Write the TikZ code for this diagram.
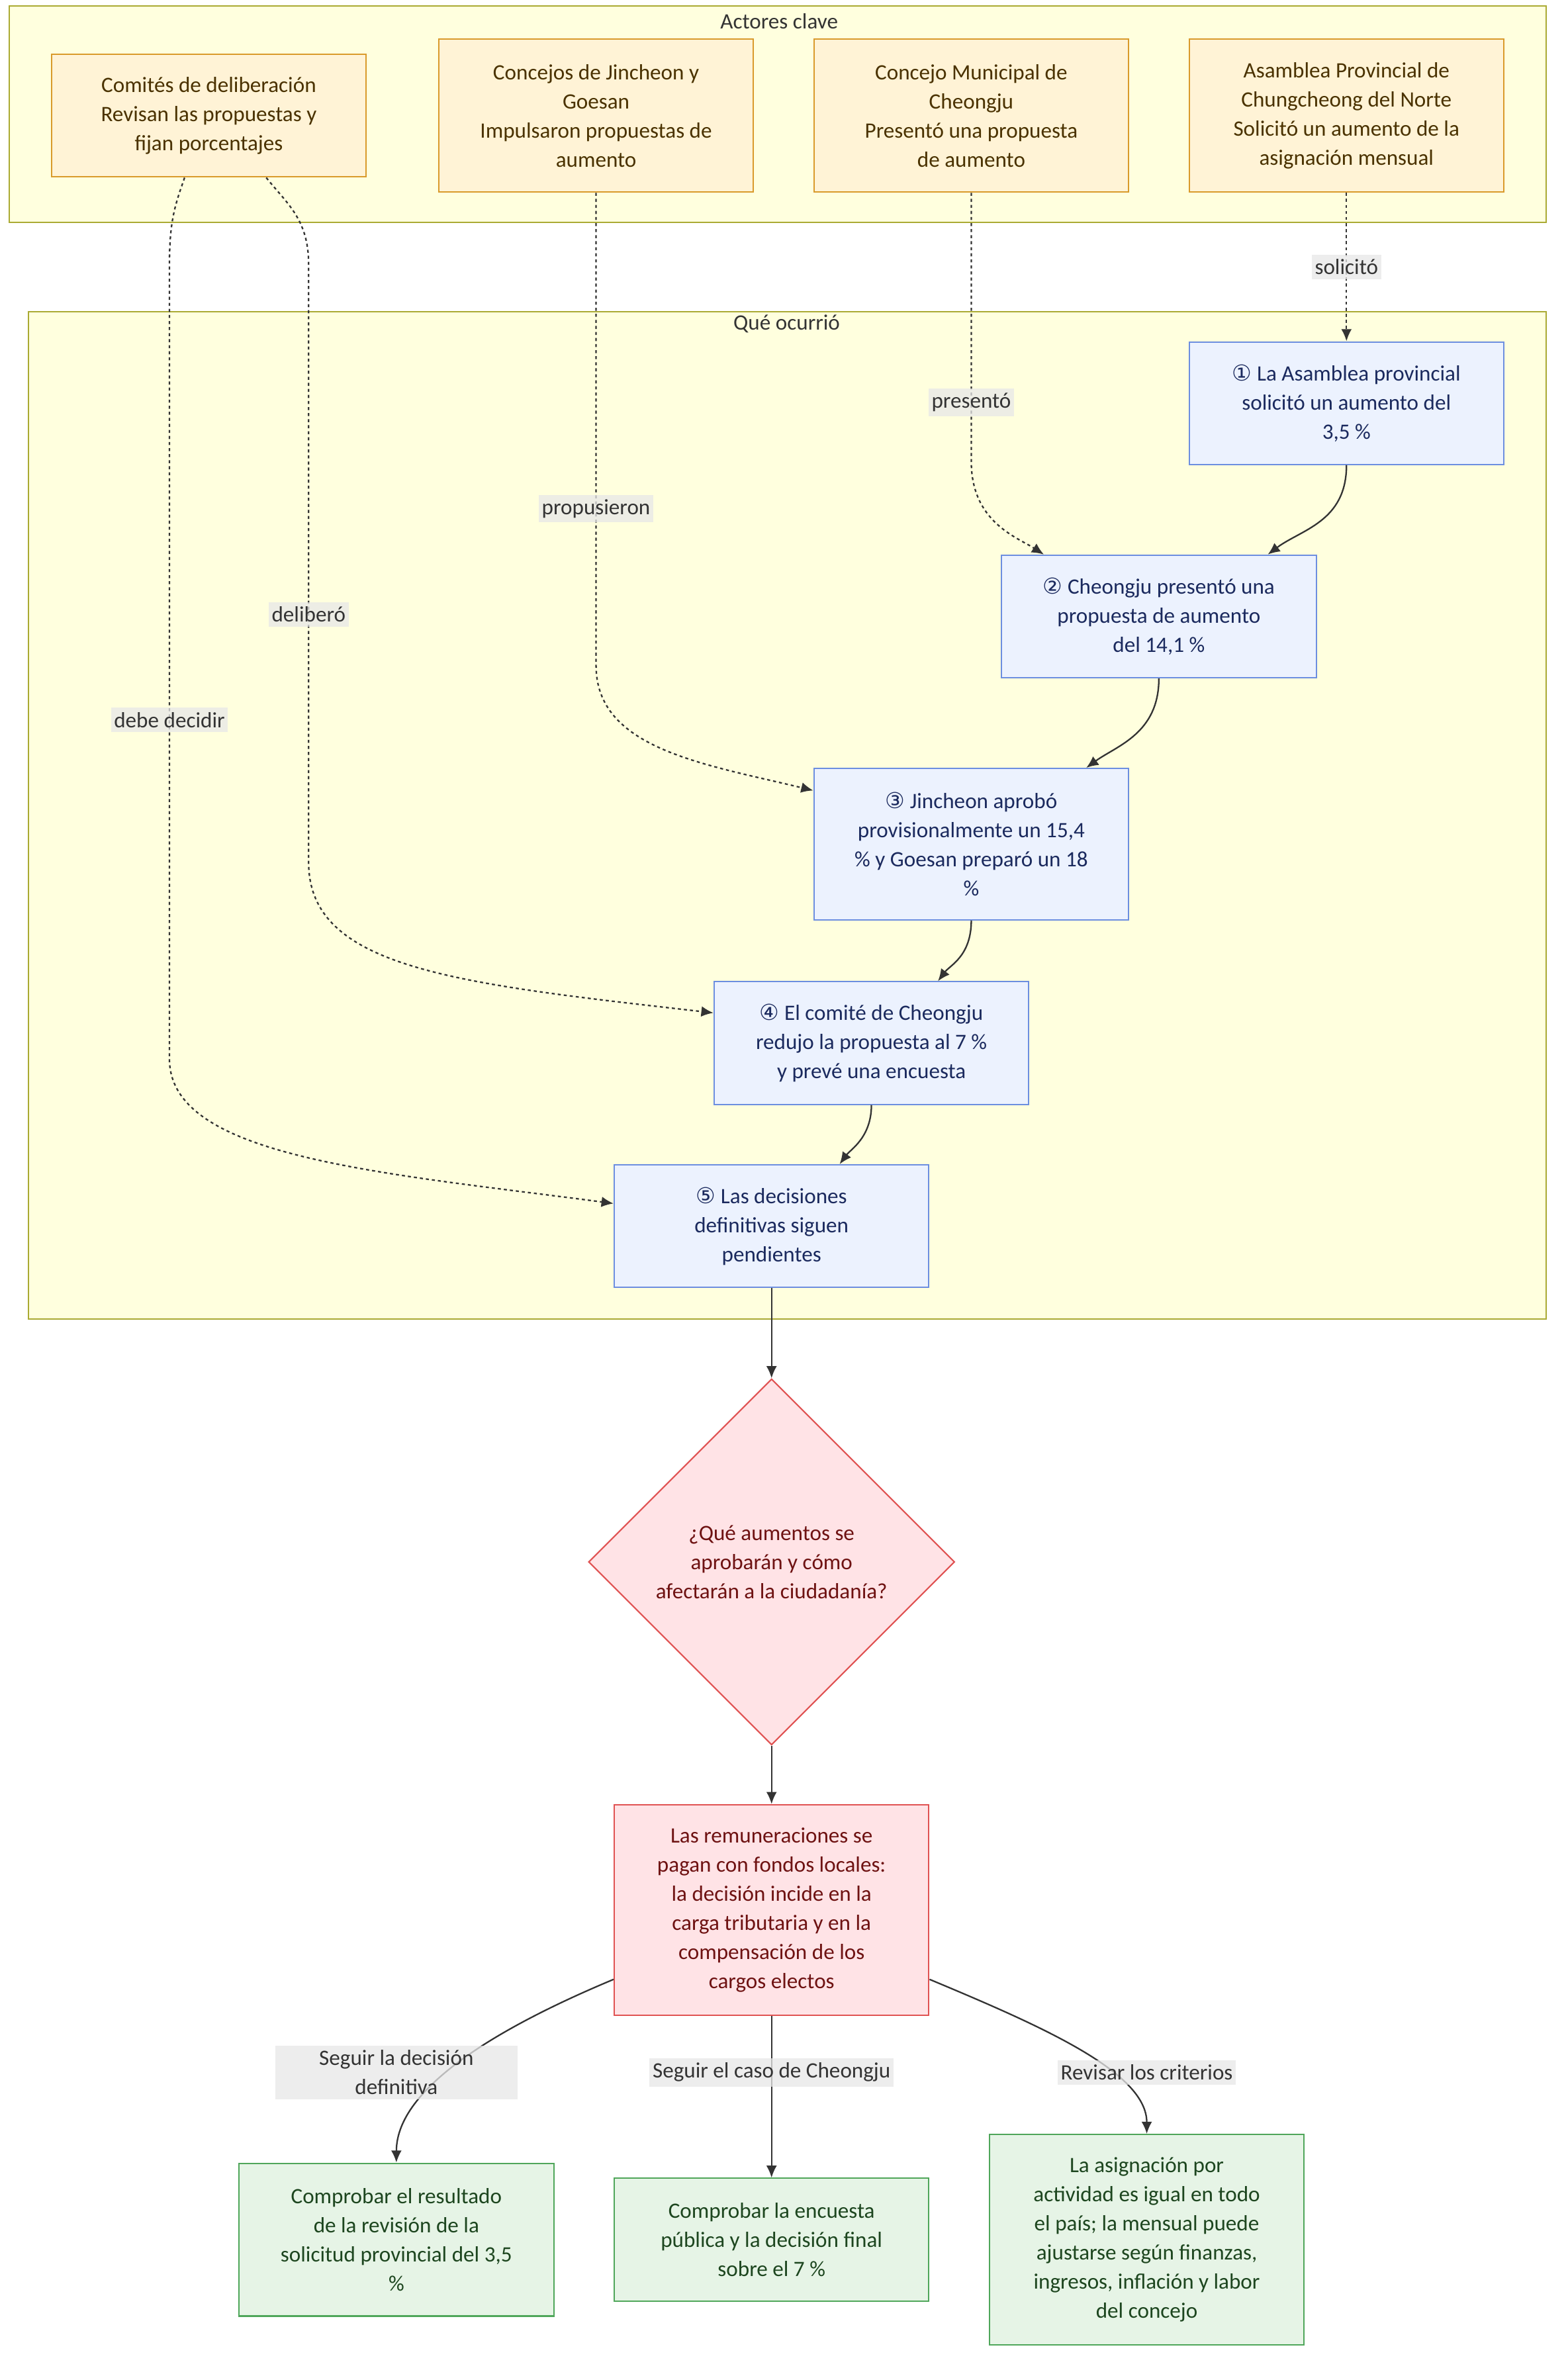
\documentclass[tikz,border=0pt]{standalone}
\usepackage{fontspec}
\setmainfont{Carlito}
\newfontfamily\circfont{DejaVu Sans}
\usetikzlibrary{shapes.geometric,arrows.meta}

\definecolor{clfill}{HTML}{FFFFDE}
\definecolor{cldraw}{HTML}{AAAA33}
\definecolor{actfill}{HTML}{FFF3D6}
\definecolor{actdraw}{HTML}{D99A2B}
\definecolor{acttext}{HTML}{4A3200}
\definecolor{stepfill}{HTML}{ECF2FE}
\definecolor{stepdraw}{HTML}{6C8EE0}
\definecolor{steptext}{HTML}{1B2A5E}
\definecolor{redfill}{HTML}{FFE3E6}
\definecolor{reddraw}{HTML}{E05252}
\definecolor{redtext}{HTML}{6E1212}
\definecolor{grnfill}{HTML}{E6F4E6}
\definecolor{grndraw}{HTML}{4FA65A}
\definecolor{grntext}{HTML}{1D461F}
\definecolor{lblfill}{HTML}{E8E8E8}
\definecolor{linecol}{HTML}{333333}

\begin{document}
\begin{tikzpicture}[x=1pt,y=-1pt,
    >={Latex[length=8pt,width=7pt]},
    every node/.style={font=\fontsize{14.5}{19.2}\selectfont, align=center, inner sep=0pt},
    cluster/.style={draw=cldraw, fill=clfill, line width=0.9pt},
    ctitle/.style={text=linecol},
    actor/.style={draw=actdraw, fill=actfill, text=acttext, line width=0.9pt, minimum width=208pt},
    stepbox/.style={draw=stepdraw, fill=stepfill, text=steptext, line width=0.9pt, minimum width=208pt},
    redbox/.style={draw=reddraw, fill=redfill, text=redtext, line width=0.9pt, minimum width=208pt},
    grnbox/.style={draw=grndraw, fill=grnfill, text=grntext, line width=0.9pt, minimum width=208pt},
    elabel/.style={fill=lblfill, fill opacity=0.75, text opacity=1, text=linecol, inner xsep=2pt, inner ysep=3pt},
    edge/.style={draw=linecol, line width=1pt},
    dotline/.style={draw=linecol, line width=1pt, dash pattern=on 2pt off 2pt}]

    \fill[white] (0,0) rectangle (1036,1568);
    \useasboundingbox (0,0) rectangle (1036,1568);

    \draw[cluster] (6,4) rectangle (1022,147);
    \node[ctitle] (tact) at (515,14) {Actores clave};
    \draw[cluster] (19,206) rectangle (1022,872);
    \node[ctitle] (tque) at (520,214) {Qué ocurrió};

    \node[actor, minimum height=81pt] (a1) at (138,76.5) {Comités de deliberación\\Revisan las propuestas y\\fijan porcentajes};
    \node[actor, minimum height=101pt] (a2) at (394,76.5) {Concejos de Jincheon y\\Goesan\\Impulsaron propuestas de\\aumento};
    \node[actor, minimum height=101pt] (a3) at (642,76.5) {Concejo Municipal de\\Cheongju\\Presentó una propuesta\\de aumento};
    \node[actor, minimum height=101pt] (a4) at (890,76.5) {Asamblea Provincial de\\Chungcheong del Norte\\Solicitó un aumento de la\\asignación mensual};

    \node[stepbox, minimum height=81pt] (s1) at (890,266.5) {{\circfont ①} La Asamblea provincial\\solicitó un aumento del\\3,5 \%};
    \node[stepbox, minimum height=81pt] (s2) at (766,407.5) {{\circfont ②} Cheongju presentó una\\propuesta de aumento\\del 14,1 \%};
    \node[stepbox, minimum height=100pt] (s3) at (642,558) {{\circfont ③} Jincheon aprobó\\provisionalmente un 15,4\\\% y Goesan preparó un 18\\\%};
    \node[stepbox, minimum height=81pt] (s4) at (576,689.5) {{\circfont ④} El comité de Cheongju\\redujo la propuesta al 7 \%\\y prevé una encuesta};
    \node[stepbox, minimum height=81pt] (s5) at (510,810.5) {{\circfont ⑤} Las decisiones\\definitivas siguen\\pendientes};

    \node[diamond, aspect=1, draw=reddraw, fill=redfill, text=redtext, line width=0.9pt, minimum width=242pt, minimum height=242pt] (q) at (510,1032.5) {¿Qué aumentos se\\aprobarán y cómo\\afectarán a la ciudadanía?};
    \node[redbox, minimum height=139pt] (r) at (510,1262.5) {Las remuneraciones se\\pagan con fondos locales:\\la decisión incide en la\\carga tributaria y en la\\compensación de los\\cargos electos};

    \node[grnbox, minimum height=101pt] (g1) at (262,1480.5) {Comprobar el resultado\\de la revisión de la\\solicitud provincial del 3,5\\\%};
    \node[grnbox, minimum height=81pt] (g2) at (510,1480.5) {Comprobar la encuesta\\pública y la decisión final\\sobre el 7 \%};
    \node[grnbox, minimum height=139pt] (g3) at (758,1480.5) {La asignación por\\actividad es igual en todo\\el país; la mensual puede\\ajustarse según finanzas,\\ingresos, inflación y labor\\del concejo};

    \draw[dotline,->] (a4) -- node[elabel] (lsol) {solicitó} (s1);
    \draw[dotline,->] (a3.south) -- node[elabel, pos=0.78] (lpre) {presentó} (642,305) .. controls (642,345) and (672,355) .. ([xshift=-76pt]s2.north);
    \draw[dotline,->] (a2.south) -- node[elabel, pos=0.668] (lpro) {propusieron} (394,440) .. controls (394,495) and (465,505) .. ([yshift=-15pt]s3.north west);
    \draw[dotline,->] ([xshift=38pt]a1.south) .. controls (190,135) and (204,145) .. (204,175) -- node[elabel, pos=0.585] (ldel) {deliberó} (204,570) .. controls (204,640) and (300,650) .. ([yshift=-21pt]s4.north west);
    \draw[dotline,->] ([xshift=-16pt]a1.south) .. controls (116,135) and (112,145) .. (112,175) -- node[elabel, pos=0.573] (ldeb) {debe decidir} (112,700) .. controls (112,765) and (250,775) .. ([yshift=-26pt]s5.north west);

    \draw[edge,->] (s1.south) .. controls (890,345) and (860,350) .. ([xshift=72pt]s2.north);
    \draw[edge,->] (s2.south) .. controls (766,485) and (738,493) .. ([xshift=76pt]s3.north);
    \draw[edge,->] (s3.south) .. controls (642,632) and (628,638) .. ([xshift=44pt]s4.north);
    \draw[edge,->] (s4.south) .. controls (576,752) and (562,760) .. ([xshift=45pt]s5.north);
    \draw[edge,->] (s5) -- (q);
    \draw[edge,->] (q) -- (r);

    \draw[edge,->] ([yshift=24pt]r.south west) .. controls (330,1340) and (262,1380) .. (g1.north)
        node[elabel, minimum width=160pt] (lseg) at (262,1370) {Seguir la decisión\\definitiva};
    \draw[edge,->] (r) -- node[elabel, pos=0.35] (lcas) {Seguir el caso de Cheongju} (g2);
    \draw[edge,->] ([yshift=24pt]r.south east) .. controls (690,1340) and (758,1370) .. (g3.north)
        node[elabel] (lrev) at (758,1370) {Revisar los criterios};
\end{tikzpicture}
\end{document}
